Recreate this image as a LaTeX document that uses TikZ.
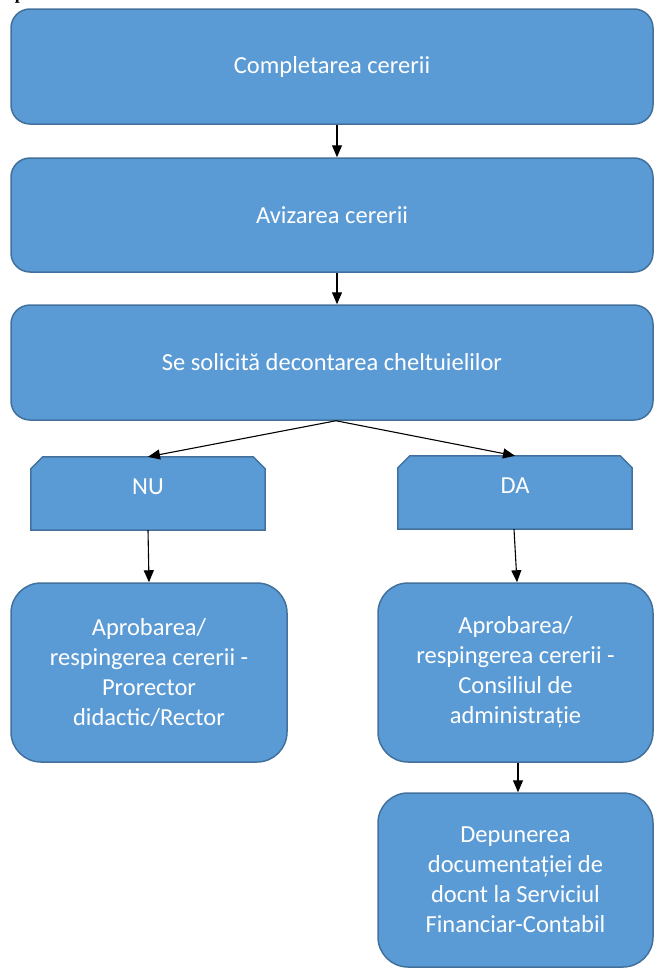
\documentclass[tikz,border=0pt]{standalone}
\usepackage{fontspec}
\setmainfont{Carlito}
\newfontfamily\titlufont{Liberation Serif}
\usepackage{pgf,tikz}
\usetikzlibrary{arrows.meta, positioning, backgrounds}
\definecolor{albastru}{HTML}{5B9BD5}
\definecolor{contur}{HTML}{41719C}
\tikzstyle{pas} = [draw=contur, fill=albastru, line width=1.5pt, rectangle, rounded corners=19pt, text=white, align=center, inner sep=0pt, font=\fontsize{24.5}{30}\selectfont]
\tikzstyle{pasmare} = [pas, rounded corners=30pt, minimum width=275pt]
\tikzstyle{raspuns} = [rectangle, minimum width=234pt, minimum height=73pt, inner sep=0pt, text=white, text depth=14pt, font=\fontsize{24.5}{30}\selectfont]
\tikzstyle{colt} = [draw=contur, fill=albastru, line width=1.5pt]
\tikzstyle{sageata} = [-{Triangle[length=12pt,width=10pt]}, line width=1.1pt]

\begin{document}
\begin{tikzpicture}[x=1pt, y=-1pt]
	\useasboundingbox (0,0) rectangle (654,969);
	\node[anchor=base, font=\titlufont\bfseries\fontsize{18}{20}\selectfont] (titlu) at (20,-0.5) {p};
	\node [pas, minimum width=642pt, minimum height=115pt] (completare) at (332,66.5) {Completarea cererii};
	\node [pas, minimum width=642pt, minimum height=114pt] (avizare) at (332,215) {Avizarea cererii};
	\node [pas, minimum width=642pt, minimum height=115pt] (solicitare) at (332,362.5) {Se solicită decontarea cheltuielilor};
	\node [raspuns] (nu) at (148,493.5) {NU};
	\node [raspuns] (da) at (515,492.5) {DA};
	\begin{scope}[on background layer]
		\foreach \r in {nu, da}
			\draw[colt] ([xshift=12pt]\r.north west) -- ([xshift=-12pt]\r.north east) -- ([yshift=-12pt]\r.north east) -- (\r.south east) -- (\r.south west) -- ([yshift=-12pt]\r.north west) -- cycle;
	\end{scope}
	\node [pasmare, minimum width=276pt, minimum height=179pt] (aprobnu) at (149,672.5) {Aprobarea/\\respingerea cererii -\\Prorector\\didactic/Rector};
	\node [pasmare, minimum height=179pt] (aprobda) at (515.5,672.5) {Aprobarea/\\respingerea cererii -\\Consiliul de\\administrație};
	\node [pasmare, minimum height=174pt] (depunere) at (515.5,880) {Depunerea\\documentației de\\docnt la Serviciul\\Financiar-Contabil};
	\draw[sageata] ([xshift=5pt]completare.south) -- ([xshift=5pt]avizare.north);
	\draw[sageata] ([xshift=5pt]avizare.south) -- ([xshift=5pt]solicitare.north);
	\draw[sageata] ([xshift=4pt]solicitare.south) -- (nu.north);
	\draw[sageata] ([xshift=4pt]solicitare.south) -- (da.north);
	\draw[sageata] (nu.south) -- (aprobnu.north);
	\draw[sageata] ([xshift=-1pt]da.south) -- ([xshift=1.5pt]aprobda.north);
	\draw[sageata] ([xshift=2.5pt]aprobda.south) -- ([xshift=2.5pt]depunere.north);
\end{tikzpicture}
\end{document}
